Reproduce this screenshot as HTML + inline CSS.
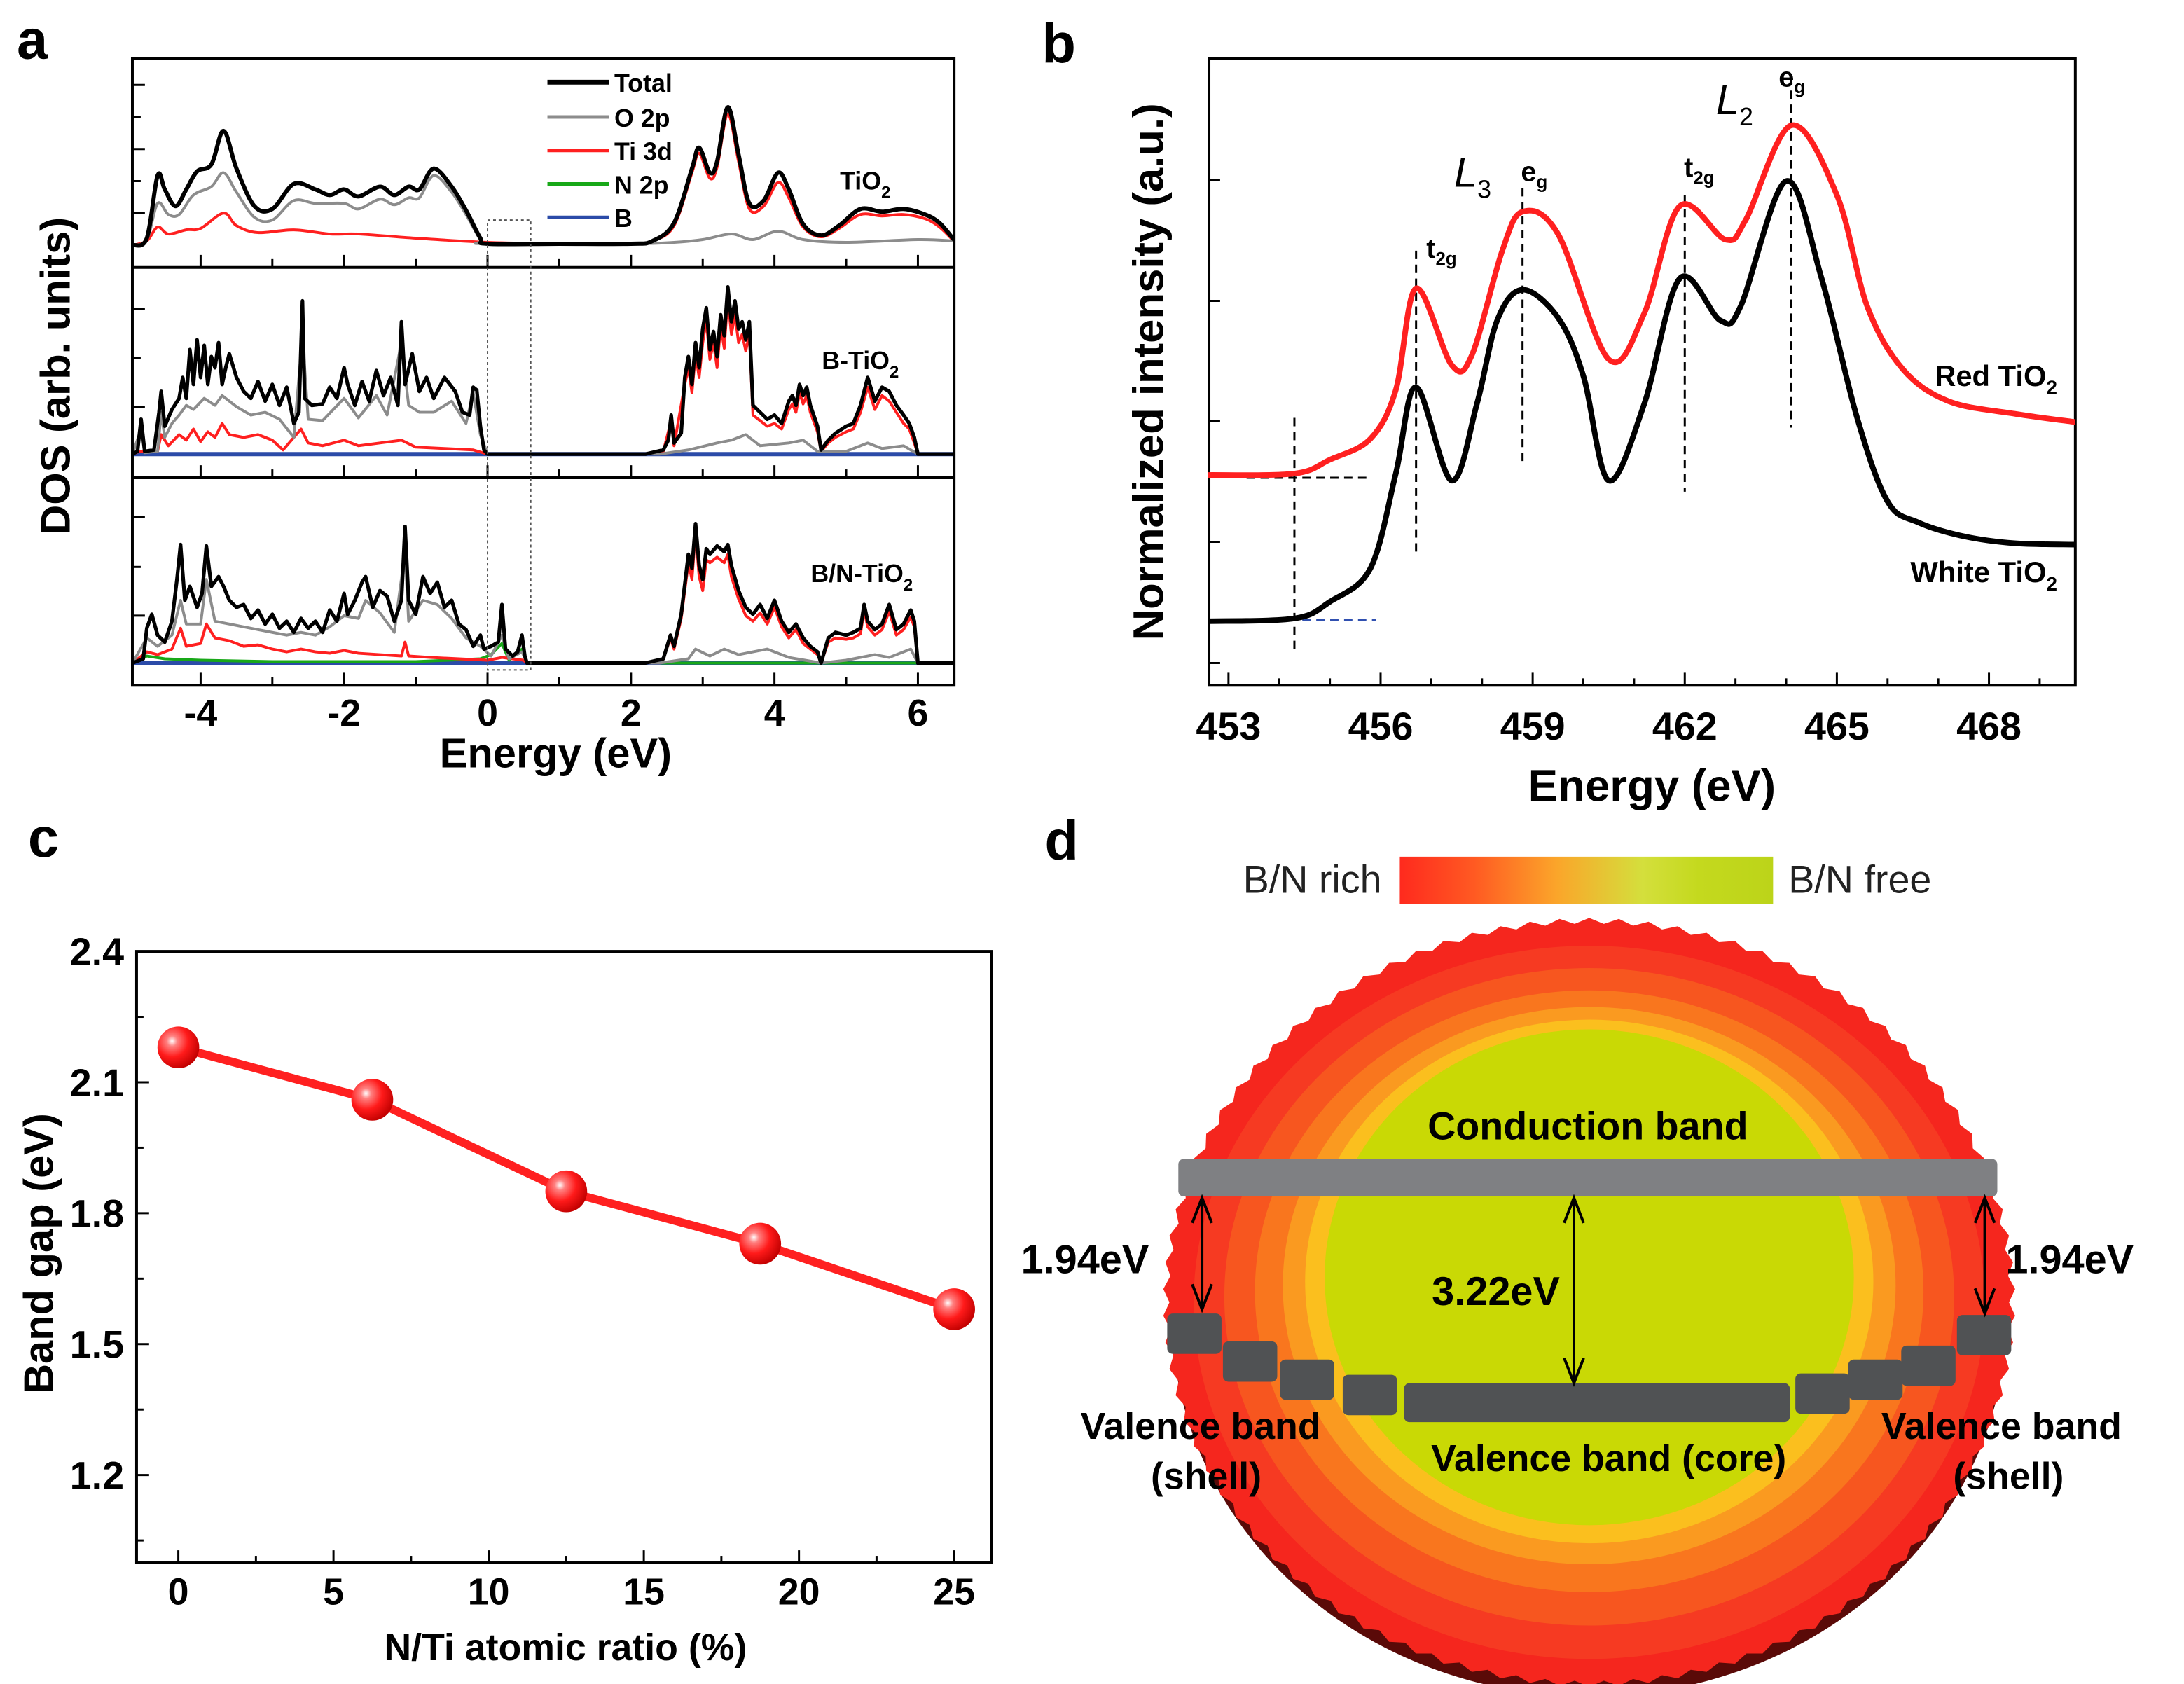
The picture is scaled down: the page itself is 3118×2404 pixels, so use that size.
<!DOCTYPE html>
<html><head><meta charset="utf-8"><style>
html,body{margin:0;padding:0;background:#fff;}
svg{display:block;font-family:"Liberation Sans",Arial,sans-serif;}
.b{font-weight:bold;}
</style></head><body>
<svg id="fig" width="3118" height="2404" viewBox="0 0 1568 1209" xmlns="http://www.w3.org/2000/svg">
<defs>
<radialGradient id="ball" cx="0.35" cy="0.35" r="0.7">
<stop offset="0" stop-color="#ffffff"/><stop offset="0.18" stop-color="#ff8080"/><stop offset="0.55" stop-color="#ff1a1a"/><stop offset="1" stop-color="#c00000"/>
</radialGradient>
<linearGradient id="cbar" x1="0" x2="1" y1="0" y2="0">
<stop offset="0" stop-color="#ff2a1e"/><stop offset="0.2" stop-color="#ff5a22"/><stop offset="0.42" stop-color="#fba52a"/><stop offset="0.65" stop-color="#d4df3c"/><stop offset="0.8" stop-color="#c4d91e"/><stop offset="1" stop-color="#bcd419"/>
</linearGradient>
</defs>
<g id="pa"></g>
<g id="pb"></g>
<g id="pc"></g>
<g id="pd"></g>
</svg>
<script>
// ---------- Panel a data (energy eV, DOS arb.) ----------
const a1Total=[[-4.95,0],[-4.75,5],[-4.6,50],[-4.5,40],[-4.35,28],[-4.2,40],[-4.05,53],[-3.85,58],[-3.68,82],[-3.5,55],[-3.25,28],[-3.0,26],[-2.7,44],[-2.4,40],[-2.2,36],[-2.0,40],[-1.8,35],[-1.5,42],[-1.3,36],[-1.1,42],[-0.95,40],[-0.75,55],[-0.5,42],[-0.3,25],[-0.1,5],[0,1],[1,1],[2,1],[2.3,3],[2.6,16],[2.85,55],[2.95,70],[3.1,52],[3.2,60],[3.35,99],[3.5,65],[3.65,30],[3.85,32],[4.05,52],[4.2,40],[4.4,15],[4.65,7],[4.9,14],[5.2,26],[5.5,24],[5.8,26],[6.1,22],[6.3,16],[6.5,4]];
const a1O2p=[[-4.95,0],[-4.75,4],[-4.6,30],[-4.45,22],[-4.3,22],[-4.1,36],[-3.85,42],[-3.68,52],[-3.5,38],[-3.25,20],[-3.0,18],[-2.7,32],[-2.4,30],[-2.0,30],[-1.8,26],[-1.5,33],[-1.3,29],[-1.1,34],[-0.95,34],[-0.75,50],[-0.5,38],[-0.3,22],[-0.1,4],[0,1],[2,1],[2.6,2],[3.0,4],[3.4,8],[3.7,4],[4.05,10],[4.4,4],[5,2],[6,4],[6.5,3]];
const a1Ti3d=[[-4.95,0],[-4.75,3],[-4.6,13],[-4.45,8],[-4.2,11],[-4.0,12],[-3.68,23],[-3.5,14],[-3.2,9],[-2.7,11],[-2.2,8],[-1.8,8],[-1.0,5],[0,2],[1,1],[2,1],[2.3,3],[2.6,14],[2.85,52],[2.95,66],[3.1,48],[3.2,56],[3.35,94],[3.5,60],[3.65,26],[3.85,28],[4.05,45],[4.2,34],[4.4,13],[4.65,6],[4.9,12],[5.2,22],[5.5,21],[5.8,22],[6.1,19],[6.3,13],[6.5,3]];
const a2Total=[[-4.95,0],[-4.88,2],[-4.83,25],[-4.78,2],[-4.65,3],[-4.58,30],[-4.55,45],[-4.5,20],[-4.4,32],[-4.3,40],[-4.25,55],[-4.2,40],[-4.15,75],[-4.1,50],[-4.05,82],[-4.0,55],[-3.95,78],[-3.9,50],[-3.85,70],[-3.8,62],[-3.75,80],[-3.7,50],[-3.65,62],[-3.6,72],[-3.5,55],[-3.4,45],[-3.3,40],[-3.2,52],[-3.1,38],[-3.0,50],[-2.9,35],[-2.8,48],[-2.7,22],[-2.63,30],[-2.58,110],[-2.55,40],[-2.45,35],[-2.3,36],[-2.2,48],[-2.1,40],[-2.0,62],[-1.95,50],[-1.85,35],[-1.75,52],[-1.65,38],[-1.55,60],[-1.45,42],[-1.35,55],[-1.25,35],[-1.2,95],[-1.15,50],[-1.05,72],[-0.95,45],[-0.85,55],[-0.75,40],[-0.6,55],[-0.45,45],[-0.35,30],[-0.25,28],[-0.2,48],[-0.15,46],[-0.1,20],[-0.05,3],[0,0],[2.2,0],[2.45,3],[2.52,10],[2.56,28],[2.6,8],[2.7,15],[2.75,55],[2.8,70],[2.85,50],[2.9,80],[2.95,62],[3.0,90],[3.05,105],[3.1,75],[3.15,88],[3.2,70],[3.25,100],[3.3,85],[3.35,120],[3.4,95],[3.45,110],[3.5,90],[3.55,95],[3.6,82],[3.65,95],[3.7,35],[3.8,30],[3.9,25],[4.0,28],[4.1,22],[4.2,38],[4.25,42],[4.3,35],[4.35,50],[4.4,42],[4.45,48],[4.5,35],[4.6,20],[4.65,3],[4.75,10],[4.85,15],[5.0,20],[5.1,22],[5.2,35],[5.3,55],[5.4,38],[5.5,48],[5.6,45],[5.7,35],[5.8,28],[5.88,22],[5.95,12],[6.0,0],[6.5,0]];
const a2O2p=[[-4.95,0],[-4.83,18],[-4.78,1],[-4.6,2],[-4.55,30],[-4.5,12],[-4.4,22],[-4.3,28],[-4.2,35],[-4.1,32],[-3.95,40],[-3.8,35],[-3.7,42],[-3.5,34],[-3.3,28],[-3.1,30],[-2.9,25],[-2.7,12],[-2.58,85],[-2.5,25],[-2.3,24],[-2.0,40],[-1.8,26],[-1.55,42],[-1.4,28],[-1.2,80],[-1.1,35],[-0.95,30],[-0.75,30],[-0.5,38],[-0.3,22],[-0.2,44],[-0.1,14],[0,0],[2.4,0],[2.8,3],[3.2,8],[3.4,10],[3.6,14],[3.8,6],[4.2,8],[4.4,10],[4.6,2],[5.0,2],[5.3,8],[5.5,4],[5.8,6],[6,0],[6.5,0]];
const a2Ti3d=[[-4.95,0],[-4.85,2],[-4.6,2],[-4.55,14],[-4.45,6],[-4.3,14],[-4.2,10],[-4.1,18],[-4.0,9],[-3.9,16],[-3.8,12],[-3.7,22],[-3.6,14],[-3.4,12],[-3.2,14],[-3.0,10],[-2.85,3],[-2.6,18],[-2.5,8],[-2.3,6],[-2.0,10],[-1.8,6],[-1.5,8],[-1.2,10],[-1.0,5],[-0.6,4],[-0.2,3],[0,0],[2.2,0],[2.45,2],[2.56,24],[2.6,6],[2.75,50],[2.8,62],[2.85,44],[2.9,72],[2.95,55],[3.0,80],[3.05,96],[3.1,68],[3.15,80],[3.2,62],[3.25,92],[3.3,76],[3.35,112],[3.4,86],[3.45,100],[3.5,80],[3.55,86],[3.6,74],[3.65,86],[3.7,28],[3.8,24],[3.9,20],[4.0,22],[4.1,18],[4.2,32],[4.25,36],[4.3,30],[4.35,44],[4.4,36],[4.45,42],[4.5,30],[4.6,16],[4.65,2],[4.75,8],[4.85,12],[5.0,16],[5.1,18],[5.2,30],[5.3,48],[5.4,32],[5.5,42],[5.6,38],[5.7,30],[5.8,22],[5.88,18],[5.95,8],[6.0,0],[6.5,0]];
const a3Total=[[-4.95,0],[-4.8,3],[-4.75,25],[-4.68,35],[-4.6,20],[-4.5,15],[-4.4,30],[-4.33,60],[-4.28,85],[-4.22,45],[-4.15,55],[-4.05,40],[-3.98,50],[-3.92,84],[-3.85,55],[-3.75,62],[-3.68,55],[-3.6,45],[-3.5,40],[-3.4,42],[-3.3,32],[-3.2,38],[-3.1,28],[-3.0,35],[-2.9,25],[-2.8,30],[-2.7,22],[-2.6,32],[-2.5,25],[-2.4,30],[-2.3,22],[-2.2,38],[-2.1,30],[-2.0,50],[-1.95,35],[-1.85,45],[-1.75,58],[-1.7,62],[-1.6,40],[-1.5,52],[-1.4,48],[-1.3,30],[-1.2,45],[-1.15,98],[-1.1,45],[-1.0,35],[-0.9,62],[-0.8,50],[-0.7,58],[-0.6,40],[-0.5,45],[-0.4,28],[-0.3,24],[-0.2,12],[-0.1,20],[-0.05,10],[0.05,12],[0.15,15],[0.2,42],[0.25,10],[0.35,5],[0.42,8],[0.48,20],[0.52,5],[0.55,0],[2.2,0],[2.45,3],[2.55,20],[2.6,12],[2.7,35],[2.8,78],[2.85,68],[2.9,100],[2.95,70],[3.0,60],[3.05,82],[3.1,78],[3.2,84],[3.3,80],[3.35,85],[3.4,70],[3.5,52],[3.6,40],[3.7,35],[3.8,42],[3.9,32],[4.0,45],[4.1,30],[4.2,22],[4.3,28],[4.4,18],[4.5,12],[4.6,8],[4.65,0],[4.75,18],[4.85,22],[5.0,20],[5.1,22],[5.2,25],[5.25,42],[5.3,30],[5.4,24],[5.5,28],[5.6,42],[5.7,24],[5.8,28],[5.9,38],[5.95,30],[6.0,0],[6.5,0]];
const a3O2p=[[-4.95,0],[-4.75,18],[-4.6,12],[-4.4,20],[-4.28,45],[-4.2,28],[-4.0,28],[-3.92,60],[-3.8,30],[-3.6,28],[-3.4,26],[-3.2,24],[-3.0,22],[-2.8,20],[-2.6,22],[-2.4,20],[-2.2,26],[-2.0,34],[-1.8,32],[-1.7,45],[-1.5,36],[-1.3,22],[-1.15,80],[-1.1,30],[-0.9,45],[-0.7,42],[-0.5,32],[-0.3,18],[-0.1,12],[0.05,5],[0.2,20],[0.3,3],[0.48,8],[0.55,0],[2.4,0],[2.8,3],[2.9,10],[3.1,5],[3.3,10],[3.5,6],[3.9,10],[4.2,4],[4.65,0],[5.0,2],[5.4,6],[5.6,4],[5.9,10],[6,0],[6.5,0]];
const a3Ti3d=[[-4.95,0],[-4.75,8],[-4.6,6],[-4.4,10],[-4.28,25],[-4.2,12],[-4.0,14],[-3.92,28],[-3.8,18],[-3.6,16],[-3.4,12],[-3.2,13],[-3.0,10],[-2.8,8],[-2.6,10],[-2.4,8],[-2.2,7],[-2.0,9],[-1.8,7],[-1.5,6],[-1.2,5],[-1.15,15],[-1.1,5],[-0.8,4],[-0.4,3],[0,2],[0.2,4],[0.5,2],[0.55,0],[2.2,0],[2.45,3],[2.55,18],[2.6,10],[2.7,32],[2.8,72],[2.85,60],[2.9,94],[2.95,62],[3.0,52],[3.05,74],[3.1,72],[3.2,76],[3.3,72],[3.35,78],[3.4,62],[3.5,46],[3.6,34],[3.7,30],[3.8,36],[3.9,28],[4.0,40],[4.1,26],[4.2,18],[4.3,24],[4.4,14],[4.5,10],[4.6,6],[4.65,0],[4.75,15],[4.85,18],[5.0,17],[5.1,18],[5.2,21],[5.25,38],[5.3,26],[5.4,20],[5.5,24],[5.6,37],[5.7,20],[5.8,24],[5.9,33],[5.95,26],[6.0,0],[6.5,0]];
const a3N2p=[[-4.95,0],[-4.75,5],[-4.5,3],[-4,2],[-3,1],[-1,1],[-0.1,3],[0.05,6],[0.2,14],[0.3,2],[0.48,10],[0.55,0],[6.5,0]];
const aBflat=[[-4.95,0],[6.5,0]];
const aTicks=[-4,-2,0,2,4,6];
const aLegend=["Total","O 2p","Ti 3d","N 2p","B"];
// ---------- Panel b data ----------
const bRed=[[452.6,0.96],[454.3,0.97],[455,1.07],[455.8,1.22],[456.3,1.57],[456.7,2.3],[457.4,1.75],[457.8,1.82],[458.4,2.57],[458.8,2.85],[459.5,2.69],[460.5,1.79],[461.2,2.12],[461.9,2.89],[462.8,2.65],[463.2,2.79],[464.1,3.47],[465,2.97],[465.6,2.17],[466.3,1.72],[467.2,1.49],[468.5,1.40],[469.7,1.34]];
const bWhite=[[452.6,-0.09],[454.3,-0.07],[455,0.05],[455.8,0.29],[456.3,0.97],[456.7,1.59],[457.4,0.92],[457.9,1.47],[458.3,2.07],[458.8,2.29],[459.5,2.09],[460,1.67],[460.5,0.92],[461.2,1.47],[461.9,2.37],[462.7,2.07],[463.1,2.17],[464,3.07],[464.7,2.37],[465.4,1.37],[466,0.77],[466.6,0.62],[467.5,0.52],[468.5,0.47],[469.7,0.46]];
const bTicks=[453,456,459,462,465,468];
const bPeaks=[456.7,458.8,462,464.1];
// ---------- Panel c data ----------
const cX=[0,6.25,12.5,18.75,25];
const cY=[2.18,2.06,1.85,1.73,1.58];
const cXTicks=[0,5,10,15,20,25];
const cYTicks=["1.2","1.5","1.8","2.1","2.4"];

const NS="http://www.w3.org/2000/svg";
function mk(parent,tag,attrs,text){const e=document.createElementNS(NS,tag);for(const k in attrs)e.setAttribute(k,attrs[k]);if(text!==undefined)e.textContent=text;parent.appendChild(e);return e;}
function linePath(pts){return pts.map((p,i)=>(i?"L":"M")+p[0].toFixed(2)+","+p[1].toFixed(2)).join("");}
function smoothPath(p){let d="M"+p[0][0]+","+p[0][1];for(let i=0;i<p.length-1;i++){const p0=p[Math.max(0,i-1)],p1=p[i],p2=p[i+1],p3=p[Math.min(p.length-1,i+2)];const c1=[p1[0]+(p2[0]-p0[0])/6,p1[1]+(p2[1]-p0[1])/6],c2=[p2[0]-(p3[0]-p1[0])/6,p2[1]-(p3[1]-p1[1])/6];d+="C"+c1[0].toFixed(2)+","+c1[1].toFixed(2)+" "+c2[0].toFixed(2)+","+c2[1].toFixed(2)+" "+p2[0].toFixed(2)+","+p2[1].toFixed(2);}return d;}

// ===== Panel A =====
(function(){
const g=document.getElementById('pa');
const L=95,R=685,T=42,B=492;
const xa=e=>350+e*51.5;
const panels=[{top:42,bot:192,base:176},{top:192,bot:343,base:326},{top:343,bot:492,base:476}];
const COL={tot:"#000",o:"#8c8c8c",ti:"#ff2020",n:"#18a818",b:"#2b4ba8"};
function series(pts,pi,col,w,smooth,name){const base=panels[pi].base;const pp=pts.map(p=>[xa(p[0]),base-p[1]]);const el=mk(g,'path',{d:smooth?smoothPath(pp):linePath(pp),fill:'none',stroke:col,'stroke-width':w,'stroke-linejoin':'round'});

}
series(a1Ti3d,0,COL.ti,2,true,'tio2-ti3d-curve');
series(a1O2p,0,COL.o,2,true,'tio2-o2p-curve');
series(a1Total,0,COL.tot,3,true,'tio2-total-curve');
series(aBflat,1,COL.b,3,false,'btio2-b-curve');
series(a2Ti3d,1,COL.ti,2,false,'btio2-ti3d-curve');
series(a2O2p,1,COL.o,2,false,'btio2-o2p-curve');
series(a2Total,1,COL.tot,2.6,false,'btio2-total-curve');
series(aBflat,2,COL.b,3,false,'bntio2-b-curve');
series(a3N2p,2,COL.n,2,false,'bntio2-n2p-curve');
series(a3Ti3d,2,COL.ti,2,false,'bntio2-ti3d-curve');
series(a3O2p,2,COL.o,2,false,'bntio2-o2p-curve');
series(a3Total,2,COL.tot,2.6,false,'bntio2-total-curve');
const fr=mk(g,'rect',{x:L,y:T,width:R-L,height:B-T,fill:'none',stroke:'#000','stroke-width':2});

mk(g,'line',{x1:L,x2:R,y1:192,y2:192,stroke:'#000','stroke-width':2});
mk(g,'line',{x1:L,x2:R,y1:343,y2:343,stroke:'#000','stroke-width':2});
for(const p of panels){for(let e=-4;e<=6;e++){const len=(e%2===0)?9:6;mk(g,'line',{x1:xa(e),x2:xa(e),y1:p.bot,y2:p.bot-len,stroke:'#000','stroke-width':1.5});}}
const yt=[[61,84,107,130,153],[222,257,292],[371,407,442]];
yt.forEach(arr=>arr.forEach((y,i)=>mk(g,'line',{x1:L,x2:L+(i%2?6:9),y1:y,y2:y,stroke:'#000','stroke-width':1.5})));
aTicks.forEach(t=>{const tx=mk(g,'text',{x:xa(t),y:521,'text-anchor':'middle','font-size':27,'font-weight':'bold'},(t<0?"-":"")+Math.abs(t));});
const xl=mk(g,'text',{x:xa(0.95),y:551,'text-anchor':'middle','font-size':30,'font-weight':'bold'},"Energy (eV)");

const yl=mk(g,'text',{x:0,y:0,transform:'translate(50,270) rotate(-90)','text-anchor':'middle','font-size':30,'font-weight':'bold'},"DOS (arb. units)");

mk(g,'rect',{x:350,y:158,width:31,height:323,fill:'none',stroke:'#555','stroke-width':1,'stroke-dasharray':'2,2'});
const lc=[COL.tot,COL.o,COL.ti,COL.n,COL.b],ly=[59,84,108,132,156];
aLegend.forEach((t,i)=>{const ln=mk(g,'line',{x1:393,x2:437,y1:ly[i],y2:ly[i],stroke:lc[i],'stroke-width':i?2.5:3.5});
const tx=mk(g,'text',{x:441,y:ly[i]+7,'font-size':18,'font-weight':'bold'},t);});
const lab=(x,y,t,n)=>{const tx=mk(g,'text',{x:x,y:y,'font-size':18,'font-weight':'bold'});tx.innerHTML=t;};
lab(603,136,'TiO<tspan font-size="12" dy="6">2</tspan>','tio2-label');
lab(590,265,'B-TiO<tspan font-size="12" dy="6">2</tspan>','b-tio2-label');
lab(582,418,'B/N-TiO<tspan font-size="12" dy="6">2</tspan>','bn-tio2-label');
const pl=mk(g,'text',{x:12,y:42,'font-size':40,'font-weight':'bold'},"a");
})();

// ===== Panel B =====
(function(){
const g=document.getElementById('pb');
const L=868,R=1490,T=42,B=492;
const xb=e=>882+(e-453)*36.4;
const yv=v=>437+(-v)*100;
const fr=mk(g,'rect',{x:L,y:T,width:R-L,height:B-T,fill:'none',stroke:'#000','stroke-width':2});

for(let e=453;e<=469;e++){mk(g,'line',{x1:xb(e),x2:xb(e),y1:B,y2:B-((e-453)%3===0?9:5),stroke:'#000','stroke-width':1.5});}
[129,216,302,389,476].forEach(y=>mk(g,'line',{x1:L,x2:L+8,y1:y,y2:y,stroke:'#000','stroke-width':1.5}));
bTicks.forEach(t=>{const tx=mk(g,'text',{x:xb(t),y:531,'text-anchor':'middle','font-size':28,'font-weight':'bold'},t);});
const xl=mk(g,'text',{x:1186,y:575,'text-anchor':'middle','font-size':32,'font-weight':'bold'},"Energy (eV)");
const yl=mk(g,'text',{x:0,y:0,transform:'translate(835,267) rotate(-90)','text-anchor':'middle','font-size':31,'font-weight':'bold'},"Normalized intensity (a.u.)");
const dash=(x1,y1,x2,y2,c)=>mk(g,'line',{x1:x1,y1:y1,x2:x2,y2:y2,stroke:c||'#000','stroke-width':1.5,'stroke-dasharray':'6,4'});
dash(xb(454.3),300,xb(454.3),466);
dash(895,343,985,343);
dash(895,445,988,445,'#3050b0');
const pTop=[180,135,140,55],pBot=[400,333,353,307];
bPeaks.forEach((e,i)=>dash(xb(e),pTop[i],xb(e),pBot[i]));
const rp=mk(g,'path',{d:smoothPath(bRed.map(p=>[xb(p[0]),yv(p[1])])),fill:'none',stroke:'#ff2020','stroke-width':4});
const wp=mk(g,'path',{d:smoothPath(bWhite.map(p=>[xb(p[0]),yv(p[1])])),fill:'none',stroke:'#000','stroke-width':4});
const lab=(x,y,t,n,fs,anchor)=>{const tx=mk(g,'text',{x:x,y:y,'font-size':fs||20,'font-weight':'bold','text-anchor':anchor||'start'});tx.innerHTML=t;};
lab(1024,185,'t<tspan font-size="13" dy="5">2g</tspan>','t2g-label-l3');
lab(1092,130,'e<tspan font-size="13" dy="5">g</tspan>','eg-label-l3');
lab(1209,127,'t<tspan font-size="13" dy="5">2g</tspan>','t2g-label-l2');
lab(1277,62,'e<tspan font-size="13" dy="5">g</tspan>','eg-label-l2');
const l3=mk(g,'text',{x:1044,y:134,'font-size':30,'font-style':'italic'});l3.innerHTML='L<tspan font-size="18" font-style="normal" dy="8">3</tspan>';
const l2=mk(g,'text',{x:1232,y:82,'font-size':30,'font-style':'italic'});l2.innerHTML='L<tspan font-size="18" font-style="normal" dy="8">2</tspan>';
lab(1477,277,'Red TiO<tspan font-size="14" dy="6">2</tspan>','red-tio2-label',21,'end');
lab(1477,418,'White TiO<tspan font-size="14" dy="6">2</tspan>','white-tio2-label',21,'end');
const pl=mk(g,'text',{x:748,y:45,'font-size':40,'font-weight':'bold'},"b");
})();

// ===== Panel C =====
(function(){
const g=document.getElementById('pc');
const L=98,R=712,T=683,B=1122;
const xc=v=>128+v*22.28;
const yc=v=>683+(2.4-v)*313.3;
const fr=mk(g,'rect',{x:L,y:T,width:R-L,height:B-T,fill:'none',stroke:'#000','stroke-width':2});
for(let v=0;v<=25;v+=2.5){mk(g,'line',{x1:xc(v),x2:xc(v),y1:B,y2:B-(v%5===0?9:5),stroke:'#000','stroke-width':1.5});}
for(let v=1.05;v<2.4;v+=0.15){const major=Math.abs((v-1.2)/0.3-Math.round((v-1.2)/0.3))<0.01;mk(g,'line',{x1:L,x2:L+(major?9:5),y1:yc(v),y2:yc(v),stroke:'#000','stroke-width':1.5});}
cXTicks.forEach(t=>{const tx=mk(g,'text',{x:xc(t),y:1152,'text-anchor':'middle','font-size':27,'font-weight':'bold'},t);});
cYTicks.forEach(t=>{const tx=mk(g,'text',{x:89,y:yc(parseFloat(t))+10,'text-anchor':'end','font-size':28,'font-weight':'bold'},t);});
const xl=mk(g,'text',{x:406,y:1192,'text-anchor':'middle','font-size':27,'font-weight':'bold'},"N/Ti atomic ratio (%)");
const yl=mk(g,'text',{x:0,y:0,transform:'translate(38,900) rotate(-90)','text-anchor':'middle','font-size':30,'font-weight':'bold'},"Band gap (eV)");
const pts=cX.map((x,i)=>[xc(x),yc(cY[i])]);
const ln=mk(g,'path',{d:linePath(pts),fill:'none',stroke:'#ff2020','stroke-width':6});
pts.forEach(p=>{const c=mk(g,'circle',{cx:p[0],cy:p[1],r:15,fill:'url(#ball)'});});
const pl=mk(g,'text',{x:20,y:615,'font-size':40,'font-weight':'bold'},"c");
})();

// ===== Panel D =====
(function(){
const g=document.getElementById('pd');
const cx=1141,cy=935;
let d="";const N=90;for(let i=0;i<=N*2;i++){const a=i/(N*2)*Math.PI*2;const r=(i%2?1:0.985);d+=(i?"L":"M")+(cx+306*r*Math.cos(a)).toFixed(1)+","+(cy+276*r*Math.sin(a)).toFixed(1);}
mk(g,'ellipse',{cx:cx,cy:cy+8,rx:300,ry:275,fill:'#5a0a08'});
const od=mk(g,'path',{d:d+"Z",fill:'#f5261e'});
const rings=[[284,256,'#f63a22',0],[262,236,'#f7561f',-4],[240,216,'#f9761e',-8],[220,200,'#fa9a20',-12],[204,188,'#fbbf1e',-15],[190,178,'#c9d905',-18]];
rings.forEach((r,i)=>{const e=mk(g,'ellipse',{cx:cx,cy:cy+r[3],rx:r[0],ry:r[1],fill:r[2]});});
const cb=mk(g,'rect',{x:846,y:832,width:588,height:27,rx:4,fill:'#7f8083'});
const vc=mk(g,'rect',{x:1008,y:993,width:277,height:28,rx:4,fill:'#505254'});
[[838,943],[878,963],[919,976],[964,987],[1289,986],[1327,976],[1365,966],[1405,944]].forEach(p=>{const s=mk(g,'rect',{x:p[0],y:p[1],width:39,height:29,rx:4,fill:'#505254'});});
function arrow(x,y1,y2,n){const a=mk(g,'g',{});
mk(a,'line',{x1:x,x2:x,y1:y1,y2:y2,stroke:'#000','stroke-width':2});
mk(a,'path',{d:`M${x-7},${y1+18}L${x},${y1}L${x+7},${y1+18}M${x-7},${y2-18}L${x},${y2}L${x+7},${y2-18}`,fill:'none',stroke:'#000','stroke-width':2});}
arrow(863,860,940,'left-gap-arrow');arrow(1130,860,993,'core-gap-arrow');arrow(1425,860,943,'right-gap-arrow');
const lab=(x,y,t,n,anchor,fs)=>{const tx=mk(g,'text',{x:x,y:y,'font-size':fs||27,'font-weight':'bold','text-anchor':anchor||'middle'},t);};
lab(1140,818,'Conduction band','conduction-band-label','middle',28);
lab(733,914,'1.94eV','left-gap-label','start',29);
lab(1440,914,'1.94eV','right-gap-label','start',29);
lab(1028,937,'3.22eV','core-gap-label','start',29);
lab(862,1033,'Valence band','left-valence-label');
lab(866,1069,'(shell)','left-shell-label');
lab(1155,1056,'Valence band (core)','core-valence-label');
lab(1437,1033,'Valence band','right-valence-label');
lab(1442,1069,'(shell)','right-shell-label');
const cbr=mk(g,'rect',{x:1005,y:615,width:268,height:34,fill:'url(#cbar)'});
const t1=mk(g,'text',{x:992,y:641,'font-size':28,'text-anchor':'end',fill:'#222'},'B/N rich');
const t2=mk(g,'text',{x:1284,y:641,'font-size':28,fill:'#222'},'B/N free');
const pl=mk(g,'text',{x:750,y:617,'font-size':40,'font-weight':'bold'},"d");
})();
</script>
</body></html>
